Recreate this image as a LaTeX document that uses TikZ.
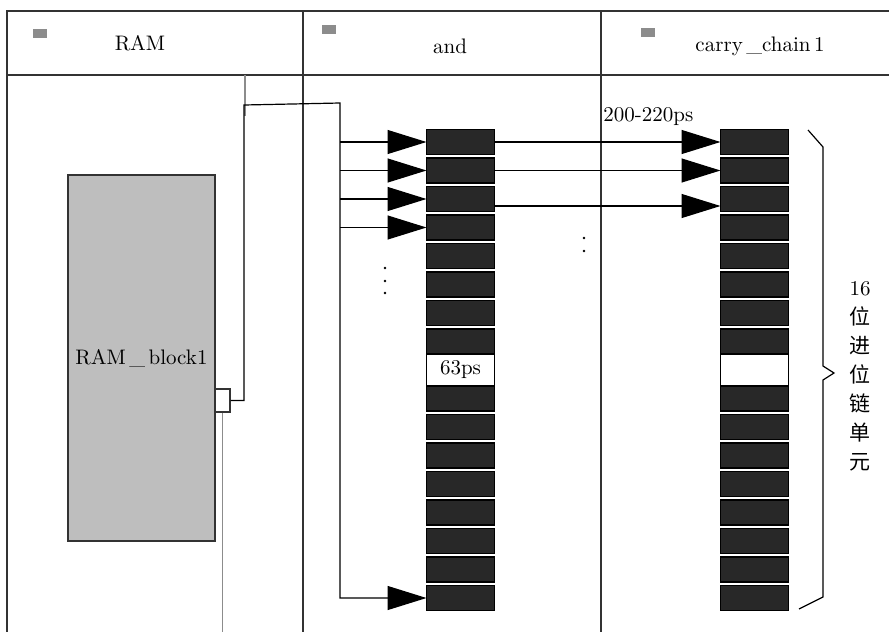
\documentclass[tikz,border=0pt]{standalone}
\usepackage{fontspec}
\newfontfamily\cjk{Noto Sans CJK SC}
\usepackage{tikz}
\usetikzlibrary{arrows.meta,positioning,calc}
\definecolor{gridline}{HTML}{333333}
\definecolor{chaindark}{HTML}{282828}
\definecolor{blockgray}{HTML}{BEBEBE}
\definecolor{tabgray}{HTML}{8C8C8C}
\tikzset{
  tabline/.style={draw=gridline, line width=0.8pt},
  subline/.style={draw=tabgray, line width=0.6pt},
  headtext/.style={font=\fontsize{10.5}{12}\selectfont, inner sep=0pt},
  tabmark/.style={rectangle, fill=tabgray, minimum width=7pt,
    minimum height=4.5pt, inner sep=0pt},
  ramblock/.style={rectangle, draw=gridline, fill=blockgray, line width=0.6pt,
    minimum width=73.5pt, minimum height=183pt,
    font=\fontsize{10.5}{12}\selectfont, inner sep=0pt},
  portbox/.style={rectangle, draw=gridline, fill=white, line width=0.6pt,
    minimum width=7.5pt, minimum height=11.5pt, inner sep=0pt},
  cellbox/.style={rectangle, draw=black, fill=chaindark, line width=0.6pt,
    minimum width=34pt, minimum height=12.5pt, inner sep=0pt, outer sep=0pt},
  gapcell/.style={cellbox, fill=white, minimum height=16pt,
    font=\fontsize{10.5}{12}\selectfont},
  wire/.style={draw=black, line width=0.6pt},
  bigarrow/.style={wire, -{Triangle[length=19.5pt,width=12pt]}},
  labelnode/.style={font=\fontsize{10.5}{12}\selectfont, inner sep=1pt},
}

\begin{document}
\begin{tikzpicture}[x=0.5pt,y=-0.5pt]
  \useasboundingbox (0,0) rectangle (889,632);

  % table frame
  \draw[tabline] (889,11) -- (7,11) -- (7,632);
  \draw[tabline] (7,75) -- (889,75);
  \draw[tabline] (303,11) -- (303,632);
  \draw[tabline] (601,11) -- (601,632);

  % headers
  \node[tabmark] (m1) at (40,33) {};
  \node[tabmark] (m2) at (329,29) {};
  \node[tabmark] (m3) at (648,32) {};
  \node[headtext] (h1) at (140,43) {RAM};
  \node[headtext] (h2) at (450,46) {and};
  \node[headtext] (h3) at (760,46) {carry\,\_chain\,1};

  % RAM block and its port
  \node[ramblock] (ram) at (141.5,358) {RAM\,\_\,block1};
  \node[portbox] (port) at (222.5,400.5) {};
  \coordinate (floor) at (0,632);
  \draw[subline] (245,75) -- (245,116);
  \draw[subline] (port.south) -- (port.south |- floor);

  % and chain / carry chain, 16 cells + one gap
  \foreach \i in {1,...,8,10,11,...,17} {
    \pgfmathsetmacro\cy{142+(\i-1)*28.5}
    \node[cellbox] (a\i) at (460.5,\cy) {};
    \node[cellbox] (c\i) at (754.5,\cy) {};
  }
  \node[gapcell] (a9) at (460.5,370) {63ps};
  \node[gapcell] (c9) at (754.5,370) {};

  % wire from RAM to the and chain
  \coordinate (turn) at (244,105);
  \coordinate (bus) at (340,103);
  \draw[bigarrow] (port.east) -| (turn) -- (bus) |- (a17.west);
  \foreach \i in {1,...,4} {
    \draw[bigarrow] (bus |- a\i.west) -- (a\i.west);
  }

  % and chain to carry chain
  \foreach \i in {1,2} {
    \draw[bigarrow] (a\i.east) -- (c\i.west);
  }
  \draw[bigarrow] ([yshift=-3.5pt]a3.east) -- ([yshift=-3.5pt]c3.west);
  \node[labelnode, anchor=west] (delay) at (601,117) {200-220ps};

  % dots
  \foreach \y in {268,281,293} \fill (385,\y) circle (0.7pt);
  \foreach \y in {238,251} \fill (584,\y) circle (0.7pt);

  % brace and label
  \draw[wire] (808,130) -- (823,147) -- (823,366) -- (834,373)
    -- (823,380) -- (823,597) -- (799,609);
  \node[labelnode, align=center, font=\fontsize{10.5}{14.5}\selectfont]
    (bits) at (860,376)
    {16\\{\cjk 位}\\{\cjk 进}\\{\cjk 位}\\{\cjk 链}\\{\cjk 单}\\{\cjk 元}};
\end{tikzpicture}
\end{document}
